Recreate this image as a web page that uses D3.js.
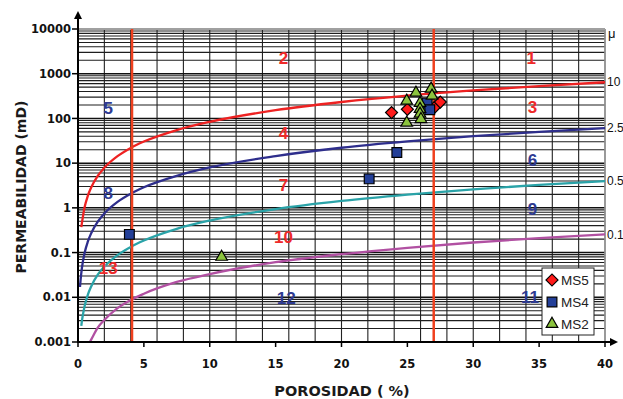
<!DOCTYPE html>
<html>
<head>
<meta charset="utf-8">
<script src="https://cdn.jsdelivr.net/npm/d3@7"></script>
<style>
  body { margin: 0; background: #fff; }
  svg { display: block; }
</style>
</head>
<body>
<script>
// pore throat radius curves (mu), read as [porosity %, permeability mD]
var curve10 = [[0.25,0.37],[0.5,1.03],[0.75,1.87],[1,2.86],[1.5,5.2],[2,7.9],[3,14.3],[4,21.9],[5,30.4],[7.5,55],[10,84],[15,153],[20,233],[25,324],[30,422],[35,530],[40,645]];
var curve25 = [[0.15,0.017],[0.2,0.025],[0.3,0.046],[0.5,0.098],[0.75,0.177],[1,0.27],[1.5,0.49],[2,0.75],[3,1.36],[4,2.07],[5,2.88],[7.5,5.2],[10,8],[15,14.4],[20,22.1],[25,30.6],[30,40],[35,50],[40,61]];
var curve05 = [[0.25,0.0023],[0.3,0.003],[0.5,0.0063],[0.75,0.0115],[1,0.0175],[1.5,0.032],[2,0.0485],[3,0.088],[4,0.134],[5,0.186],[7.5,0.34],[10,0.52],[15,0.94],[20,1.43],[25,1.98],[30,2.6],[35,3.25],[40,3.95]];
var curve01 = [[0.9,0.001],[1,0.00113],[1.5,0.0021],[2,0.0031],[3,0.0057],[4,0.0087],[5,0.012],[7.5,0.022],[10,0.033],[15,0.061],[20,0.092],[25,0.128],[30,0.168],[35,0.211],[40,0.256]];
var curveNames = ["10", "2.5", "0.5", "0.1"];
var curveColors = ["#ee2222", "#2e2e8c", "#2aa3a8", "#b150a2"];

// porosity cut-off lines
var cutoffs = [4.1, 27];

// samples
var ms5Phi = [23.8, 25.0, 27.1, 27.5];
var ms5K = [135, 160, 182, 232];
var ms4Phi = [3.9, 22.1, 24.2, 26.5, 26.7];
var ms4K = [0.255, 4.45, 17.3, 220, 156];
var ms2Phi = [10.9, 24.95, 24.95, 25.65, 25.96, 25.96, 25.96, 26.03, 26.8, 26.87];
var ms2K = [0.08, 248, 80, 374, 220, 162, 127, 96, 459, 320];

// zone numbers
var zoneText = ["1","2","3","4","5","6","7","8","9","10","11","12","13"];
var zonePhi = [34.4, 15.6, 34.5, 15.6, 2.3, 34.5, 15.6, 2.3, 34.5, 15.6, 34.3, 15.8, 2.3];
var zoneK = [2230, 2270, 179, 47.6, 170, 11.9, 3.27, 2.2, 0.95, 0.221, 0.0104, 0.00955, 0.0448];
var zoneColor = ["r","r","r","r","b","b","r","b","b","r","b","b","r"];

var xTicks = [0, 5, 10, 15, 20, 25, 30, 35, 40];
var yTicks = [0.001, 0.01, 0.1, 1, 10, 100, 1000, 10000];
var yTickLabels = ["0.001", "0.01", "0.1", "1", "10", "100", "1000", "10000"];

var W = 623, H = 399;
var pL = 78, pR = 605, pT = 29, pB = 342;

var x = d3.scaleLinear().domain([0, 40]).range([pL, pR]);
var y = d3.scaleLog().domain([0.001, 10000]).range([pB, pT]);

var svg = d3.select("body").append("svg")
    .attr("width", W)
    .attr("height", H);

//grid
var grid = svg.append("g");
d3.range(0, 41, 2).forEach(function(v) {
    grid.append("line")
        .attr("x1", x(v)).attr("x2", x(v))
        .attr("y1", pT).attr("y2", pB)
        .attr("stroke", "#222").attr("stroke-width", 1.1);
});
var minors = [];
yTicks.slice(0, -1).forEach(function(d) {
    for (var m = 2; m <= 9; m++) minors.push(d * m);
});
minors.forEach(function(v) {
    grid.append("line")
        .attr("x1", pL).attr("x2", pR)
        .attr("y1", y(v)).attr("y2", y(v))
        .attr("stroke", "#1e1e1e").attr("stroke-width", 1.1);
});
yTicks.forEach(function(v) {
    grid.append("line")
        .attr("x1", pL).attr("x2", pR)
        .attr("y1", y(v)).attr("y2", y(v))
        .attr("stroke", "#111").attr("stroke-width", 1.5);
});
//plot frame (gray)
svg.append("line").attr("x1", pL).attr("x2", pR).attr("y1", pT).attr("y2", pT)
    .attr("stroke", "#a0a0a0").attr("stroke-width", 2);
svg.append("line").attr("x1", pR).attr("x2", pR).attr("y1", pT).attr("y2", pB)
    .attr("stroke", "#a0a0a0").attr("stroke-width", 1.5);

//curves
var line = d3.line()
    .x(function(d) { return x(d[0]); })
    .y(function(d) { return y(d[1]); })
    .curve(d3.curveMonotoneX);
[curve10, curve25, curve05, curve01].forEach(function(c, i) {
    svg.append("path")
        .attr("d", line(c))
        .attr("fill", "none")
        .attr("stroke", curveColors[i])
        .attr("stroke-width", 2.3);
    svg.append("text")
        .attr("x", pR + 2)
        .attr("y", y(c[c.length - 1][1]))
        .attr("dy", "0.35em")
        .attr("font-family", "Liberation Sans, Arial, sans-serif")
        .attr("font-size", 12)
        .attr("fill", "#111")
        .text(curveNames[i]);
});
svg.append("text")
    .attr("x", pR + 3).attr("y", pT + 4)
    .attr("dy", "0.35em")
    .attr("font-family", "Liberation Sans, Arial, sans-serif")
    .attr("font-size", 13)
    .attr("fill", "#111")
    .text("μ");

//cut-off lines
cutoffs.forEach(function(v) {
    svg.append("line")
        .attr("x1", x(v)).attr("x2", x(v))
        .attr("y1", pT).attr("y2", pB)
        .attr("stroke", "#f0401e").attr("stroke-width", 2.5);
});

//zone labels
zoneText.forEach(function(t, i) {
    svg.append("text")
        .attr("x", x(zonePhi[i]))
        .attr("y", y(zoneK[i]))
        .attr("dy", "0.36em")
        .attr("text-anchor", "middle")
        .attr("font-family", "Liberation Sans, Arial, sans-serif")
        .attr("font-weight", "bold")
        .attr("font-size", 17)
        .attr("fill", zoneColor[i] === "r" ? "#ee2a2a" : "#2e3a92")
        .text(t);
});

//axes
svg.append("line").attr("x1", pL).attr("x2", pL).attr("y1", pB + 1).attr("y2", 16)
    .attr("stroke", "#000").attr("stroke-width", 2);
svg.append("path").attr("d", "M" + (pL - 4) + ",19 L" + pL + ",11 L" + (pL + 4) + ",19 Z").attr("fill", "#000");
svg.append("line").attr("x1", pL - 1).attr("x2", 613).attr("y1", pB).attr("y2", pB)
    .attr("stroke", "#000").attr("stroke-width", 2);
svg.append("path").attr("d", "M610," + (pB - 4) + " L618," + pB + " L610," + (pB + 4) + " Z").attr("fill", "#000");

yTicks.forEach(function(v, i) {
    svg.append("line").attr("x1", pL - 6).attr("x2", pL).attr("y1", y(v)).attr("y2", y(v))
        .attr("stroke", "#000").attr("stroke-width", 1.5);
    svg.append("text")
        .attr("x", pL - 7).attr("y", y(v))
        .attr("dy", "0.36em")
        .attr("text-anchor", "end")
        .attr("font-family", "DejaVu Sans, Verdana, sans-serif")
        .attr("font-weight", "bold")
        .attr("font-size", 11.5)
        .attr("fill", "#111")
        .text(yTickLabels[i]);
});
xTicks.forEach(function(v) {
    svg.append("line").attr("x1", x(v)).attr("x2", x(v)).attr("y1", pB).attr("y2", pB + 5)
        .attr("stroke", "#000").attr("stroke-width", 1.5);
    svg.append("text")
        .attr("x", x(v)).attr("y", 368)
        .attr("text-anchor", "middle")
        .attr("font-family", "DejaVu Sans, Verdana, sans-serif")
        .attr("font-weight", "bold")
        .attr("font-size", 11.5)
        .attr("fill", "#111")
        .text(v);
});

svg.append("text")
    .attr("x", 342).attr("y", 396)
    .attr("text-anchor", "middle")
    .attr("font-family", "DejaVu Sans, Verdana, sans-serif")
    .attr("font-weight", "bold")
    .attr("font-size", 14.5)
    .attr("fill", "#1a1a1a")
    .text("POROSIDAD ( %)");
svg.append("text")
    .attr("transform", "translate(26,187) rotate(-90)")
    .attr("text-anchor", "middle")
    .attr("font-family", "DejaVu Sans, Verdana, sans-serif")
    .attr("font-weight", "bold")
    .attr("font-size", 14)
    .attr("fill", "#1a1a1a")
    .text("PERMEABILIDAD (mD)");

//samples
var series = [
    {name: "MS5", phi: ms5Phi, k: ms5K, type: d3.symbolSquare, size: 72, rot: 45, fill: "#ff1a1a"},
    {name: "MS4", phi: ms4Phi, k: ms4K, type: d3.symbolSquare, size: 95, rot: 0, fill: "#233f98"},
    {name: "MS2", phi: ms2Phi, k: ms2K, type: d3.symbolTriangle, size: 58, rot: 0, fill: "#8cc43e"}
];
series.forEach(function(s) {
    svg.append("g").selectAll("path")
        .data(s.phi)
        .enter().append("path")
        .attr("d", d3.symbol().type(s.type).size(s.size))
        .attr("transform", function(d, i) {
            return "translate(" + x(d) + "," + y(s.k[i]) + ") rotate(" + s.rot + ")";
        })
        .attr("fill", s.fill)
        .attr("stroke", "#000")
        .attr("stroke-width", 1.2);
});

//legend
var lg = svg.append("g").attr("transform", "translate(542,268)");
lg.append("rect")
    .attr("width", 52).attr("height", 67)
    .attr("fill", "#fff").attr("stroke", "#222").attr("stroke-width", 1);
series.forEach(function(s, i) {
    lg.append("path")
        .attr("d", d3.symbol().type(s.type).size(s.size))
        .attr("transform", "translate(10," + (12 + i * 22) + ") rotate(" + s.rot + ")")
        .attr("fill", s.fill)
        .attr("stroke", "#000")
        .attr("stroke-width", 1.2);
    lg.append("text")
        .attr("x", 19).attr("y", 12 + i * 22)
        .attr("dy", "0.36em")
        .attr("font-family", "Liberation Sans, Arial, sans-serif")
        .attr("font-size", 13.5)
        .attr("fill", "#222")
        .text(s.name);
});
</script>
</body>
</html>
